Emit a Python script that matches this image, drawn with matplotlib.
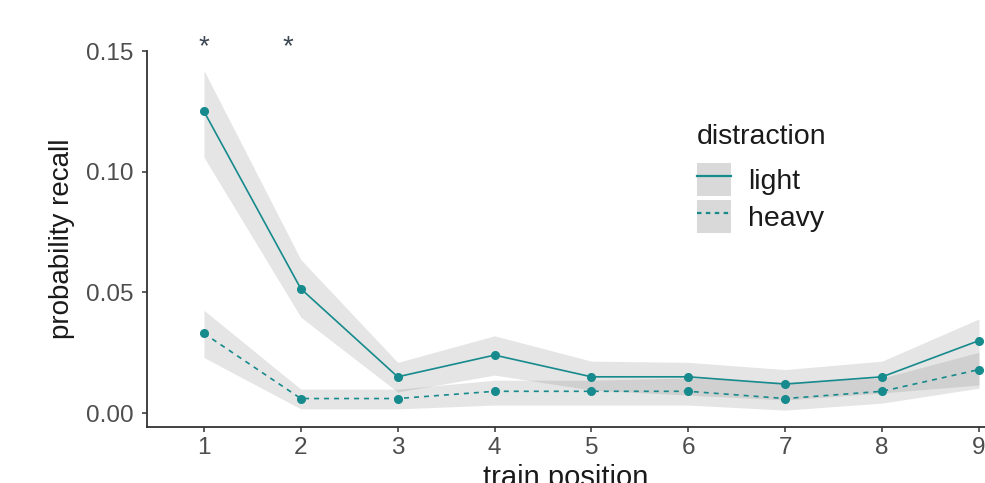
import matplotlib.pyplot as plt
from matplotlib.lines import Line2D
from matplotlib.patches import Patch

plt.rcParams["font.family"] = ["Liberation Sans", "DejaVu Sans"]

# datos
posicion = [1, 2, 3, 4, 5, 6, 7, 8, 9]

ligera = [0.125, 0.0515, 0.015, 0.024, 0.015, 0.015, 0.012, 0.015, 0.030]
ligera_sup = [0.142, 0.0636, 0.021, 0.032, 0.0215, 0.021, 0.018, 0.0215, 0.039]
ligera_inf = [0.106, 0.0397, 0.0087, 0.0157, 0.0095, 0.0074, 0.0054, 0.0083, 0.0116]

pesada = [0.033, 0.006, 0.006, 0.009, 0.009, 0.009, 0.006, 0.009, 0.018]
pesada_sup = [0.0426, 0.0099, 0.0099, 0.0136, 0.0136, 0.0145, 0.0128, 0.0145, 0.0252]
pesada_inf = [0.023, 0.0017, 0.0017, 0.0033, 0.0033, 0.0033, 0.0012, 0.0041, 0.0103]

asteriscos_x = [1, 1.87]
etiquetas_y = [0.00, 0.05, 0.10, 0.15]

color_linea = "#168a8c"
color_texto = "#4d4d4d"
color_titulo = "#1a1a1a"

fig = plt.figure(figsize=(9.85, 4.83), dpi=100)
ax = fig.add_axes([0.1492, 0.1159, 0.8508, 0.7785])

ax.fill_between(posicion, ligera_inf, ligera_sup, color="grey", alpha=0.2, linewidth=0)
ax.fill_between(posicion, pesada_inf, pesada_sup, color="grey", alpha=0.2, linewidth=0)

ax.plot(posicion, ligera, color=color_linea, lw=1.2, marker="o", ms=5.5)
ax.plot(posicion, pesada, color=color_linea, lw=1.2, ls=(0, (3, 3)), marker="o", ms=5.5)

for xa in asteriscos_x:
    ax.text(xa, 0.1515, "*", ha="center", va="center", fontsize=20,
            color="#3b4752", clip_on=False)

ax.set_xlim(0.412, 9.062)
ax.set_ylim(-0.0058, 0.15)
ax.set_xticks(posicion)
ax.set_yticks(etiquetas_y)
ax.set_yticklabels([f"{v:.2f}" for v in etiquetas_y])

for lado in ["top", "right"]:
    ax.spines[lado].set_visible(False)
for lado in ["left", "bottom"]:
    ax.spines[lado].set_color("#333333")
    ax.spines[lado].set_linewidth(1.3)

ax.tick_params(axis="both", length=3.5, width=1.1, color="#333333",
               labelsize=17.5, labelcolor=color_texto, pad=4)
ax.tick_params(axis="y", pad=6)

ax.set_xlabel("train position", fontsize=21, color=color_titulo, labelpad=3)
ax.set_ylabel("probability recall", fontsize=20, color=color_titulo, labelpad=8)

# leyenda: título aparte y claves con fondo gris
fig.text(697 / 985, 1 - 144 / 483, "distraction", fontsize=20.5,
         color=color_titulo, ha="left", va="baseline")

manejadores = [
    (Patch(facecolor="#d9d9d9", edgecolor="none"),
     Line2D([], [], color=color_linea, lw=1.6)),
    (Patch(facecolor="#d9d9d9", edgecolor="none"),
     Line2D([], [], color=color_linea, lw=1.6, ls=(0, (2, 2)))),
]
ley = ax.legend(manejadores, ["light", "heavy"],
                loc="upper left", bbox_to_anchor=(697 / 985, 1 - 163 / 483),
                bbox_transform=fig.transFigure, frameon=False,
                fontsize=20.5, handlelength=1.19, handleheight=1.4,
                labelspacing=0.16, handletextpad=0.6,
                borderpad=0, borderaxespad=0)
for t in ley.get_texts():
    t.set_color(color_titulo)

fig.savefig("out.png", dpi=100)
